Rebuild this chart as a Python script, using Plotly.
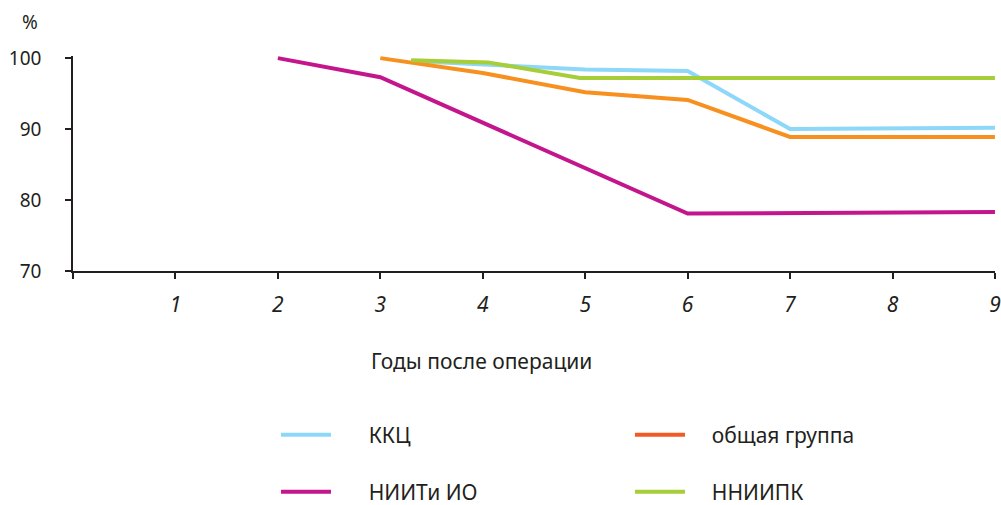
import plotly.graph_objects as go

# Data
kkc_x = [3.3, 5, 6, 7, 9]
kkc_y = [99.6, 98.4, 98.2, 90.0, 90.2]

obsh_x = [3, 4, 5, 6, 7, 9]
obsh_y = [100, 97.9, 95.2, 94.1, 88.9, 88.9]

niiti_x = [2, 3, 6, 9]
niiti_y = [100, 97.3, 78.1, 78.3]

nniipk_x = [3.3, 4.05, 4.95, 9]
nniipk_y = [99.7, 99.4, 97.2, 97.2]

x_ticks = [0, 1, 2, 3, 4, 5, 6, 7, 8, 9]
x_labels = ["", "1", "2", "3", "4", "5", "6", "7", "8", "9"]
y_ticks = [70, 80, 90, 100]

FONT = "Noto Sans"
DARK = "#231F20"
PAD1 = "\u00a0" * 6
PAD2 = "\u00a0" * 4

fig = go.Figure()
fig.add_trace(go.Scatter(x=kkc_x, y=kkc_y, mode="lines", name=PAD1 + "ККЦ",
                         line=dict(color="#8DD8F8", width=4), legend="legend"))
fig.add_trace(go.Scatter(x=obsh_x, y=obsh_y, mode="lines", name=PAD2 + "общая группа",
                         line=dict(color="#F7901E", width=4), legend="legend",
                         legendgroup="obsh", showlegend=False))
# legend entry for the general group (legend swatch is redder in the reference)
fig.add_trace(go.Scatter(x=[None], y=[None], mode="lines", name=PAD2 + "общая группа",
                         line=dict(color="#F15A24", width=4), legend="legend",
                         legendgroup="obsh", hoverinfo="skip"))
fig.add_trace(go.Scatter(x=niiti_x, y=niiti_y, mode="lines", name=PAD1 + "НИИТи ИО",
                         line=dict(color="#C4168C", width=4), legend="legend2"))
fig.add_trace(go.Scatter(x=nniipk_x, y=nniipk_y, mode="lines", name=PAD2 + "ННИИПК",
                         line=dict(color="#A6CE39", width=4), legend="legend2"))

leg_common = dict(orientation="h", entrywidth=289, entrywidthmode="pixels",
                  font=dict(family=FONT, size=21, color=DARK), itemwidth=50,
                  xref="container", yref="container",
                  xanchor="left", yanchor="middle", bgcolor="rgba(0,0,0,0)",
                  traceorder="normal")

fig.update_layout(
    width=1001, height=505,
    margin=dict(l=73, r=6, t=56, b=234, autoexpand=False),
    plot_bgcolor="white", paper_bgcolor="white",
    font=dict(family=FONT, size=21, color=DARK),
    showlegend=True,
    legend=dict(x=0.2757, y=0.1386, **leg_common),
    legend2=dict(x=0.2757, y=0.0257, **leg_common),
    xaxis=dict(range=[0, 9.0005], tickvals=x_ticks, ticktext=x_labels,
               showgrid=False, zeroline=False, showline=True, linecolor=DARK,
               linewidth=1.5, ticks="outside", ticklen=6, tickcolor=DARK,
               tickwidth=1.5, ticklabelstandoff=8,
               tickfont=dict(family=FONT, size=21, color=DARK, style="italic")),
    yaxis=dict(range=[70, 100.3], tickvals=y_ticks,
               showgrid=False, zeroline=False, showline=True, linecolor=DARK,
               linewidth=1.5, ticks="outside", ticklen=6, tickcolor=DARK,
               tickwidth=1.5, ticklabelstandoff=20,
               tickfont=dict(family=FONT, size=19, color=DARK)),
    annotations=[
        dict(text="%", xref="paper", yref="paper", x=-0.047, y=1.16,
             xanchor="center", yanchor="middle", showarrow=False,
             font=dict(family=FONT, size=19, color=DARK)),
        dict(text="Годы после операции", xref="paper", yref="paper",
             x=0.443, y=-0.42, xanchor="center", yanchor="middle",
             showarrow=False, font=dict(family=FONT, size=21, color=DARK)),
    ],
)

fig.write_html("out.html",
               config={"displayModeBar": False},
               post_script="document.body.style.margin='0';"
                           "document.body.style.overflow='hidden';")
